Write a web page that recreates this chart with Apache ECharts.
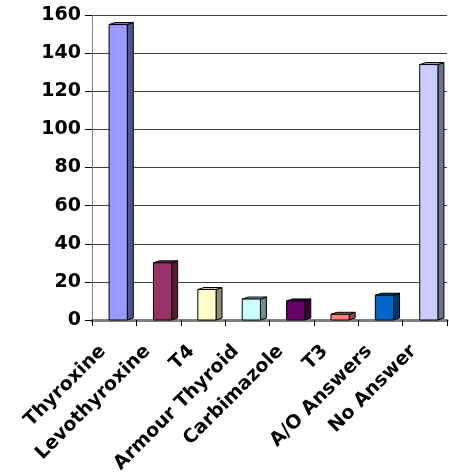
<!DOCTYPE html>
<html><head><meta charset="utf-8">
<script src="https://cdn.jsdelivr.net/npm/echarts@6/dist/echarts.min.js"></script>
<style>html,body{margin:0;padding:0;background:#fff;}#c{width:449px;height:473px;}</style>
</head><body><div id="c"></div>
<script>
const categories = ['Thyroxine','Levothyroxine','T4','Armour Thyroid','Carbimazole','T3','A/O Answers','No Answer'];
const values = [155, 30, 16, 11, 10, 3, 13, 134];
const colors = ['#9999FF','#993366','#FFFFCC','#CCFFFF','#660066','#FF8080','#0066CC','#CCCCFF'];
const yTicks = [0,20,40,60,80,100,120,140,160];

function shade(hex, f){
  const n = parseInt(hex.slice(1),16);
  const r = Math.round(((n>>16)&255)*f), g = Math.round(((n>>8)&255)*f), b = Math.round((n&255)*f);
  return 'rgb('+r+','+g+','+b+')';
}

const chart = echarts.init(document.getElementById('c'), null, {renderer:'canvas'});
chart.setOption({
  animation:false,
  grid:{left:92, right:2, top:15, bottom:153, outerBoundsMode:'none', containLabel:false},
  xAxis:{
    type:'category', data:categories,
    axisLine:{lineStyle:{color:'#808080', width:3}},
    axisTick:{show:true, length:6, lineStyle:{color:'#000'}},
    axisLabel:{rotate:45, interval:0, margin:17, padding:[0,16,0,0], color:'#000', fontFamily:'DejaVu Sans', fontWeight:'bold', fontSize:19}
  },
  yAxis:{
    type:'value', min:yTicks[0], max:yTicks[yTicks.length-1], interval:20,
    axisLine:{show:true, lineStyle:{color:'#808080'}},
    axisTick:{show:true, length:7, lineStyle:{color:'#000'}},
    axisLabel:{margin:11, color:'#000', fontFamily:'DejaVu Sans', fontWeight:'bold', fontSize:19},
    splitLine:{lineStyle:{color:'#404040', width:1}}
  },
  series:[{
    type:'custom',
    data:values.map((v,i)=>[i,v]),
    renderItem:function(params, api){
      const i = api.value(0), v = api.value(1);
      const base = api.coord([i,0]);
      const top = api.coord([i,v]);
      const bw = api.size([1,0])[0];
      const w = bw*0.41, d = 6, dy = 2;
      const x = base[0] - w/2 + 4;
      const c = colors[i];
      return {type:'group', children:[
        {type:'polygon', shape:{points:[[x+w,top[1]],[x+w+d,top[1]-dy],[x+w+d,base[1]-dy],[x+w,base[1]]]},
         style:{fill:shade(c,0.55), stroke:'#000', lineWidth:1}},
        {type:'polygon', shape:{points:[[x,top[1]],[x+d,top[1]-dy],[x+w+d,top[1]-dy],[x+w,top[1]]]},
         style:{fill:shade(c,0.8), stroke:'#000', lineWidth:1}},
        {type:'rect', shape:{x:x, y:top[1], width:w, height:base[1]-top[1]},
         style:{fill:c, stroke:'#000', lineWidth:1}}
      ]};
    }
  }]
});
</script></body></html>
